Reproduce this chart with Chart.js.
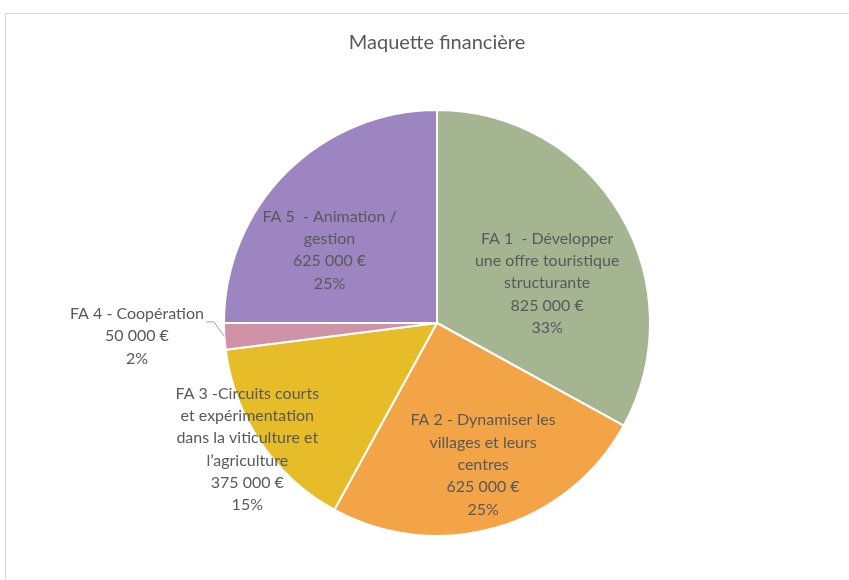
<!DOCTYPE html>
<html>
<head>
<meta charset="utf-8">
<script src="https://cdn.jsdelivr.net/npm/chart.js@4"></script>
<style>
  html, body { margin: 0; padding: 0; background: #fff; }
  canvas { display: block; }
</style>
</head>
<body>
<canvas id="pie" width="849" height="580"></canvas>
<script>
(function () {
    'use strict';

    // data
    var categories = [
        ['FA 1  - Développer', 'une offre touristique', 'structurante'],
        ['FA 2 - Dynamiser les', 'villages et leurs', 'centres'],
        ['FA 3 -Circuits courts', 'et expérimentation', 'dans la viticulture et', 'l\u2019agriculture'],
        ['FA 4 - Coopération'],
        ['FA 5  - Animation /', 'gestion']
    ];
    var amounts = [825000, 625000, 375000, 50000, 625000];
    var colors = ['#A5B592', '#F3A447', '#E7BC29', '#D092A7', '#9C85C0'];

    // where each label sits: fraction along the slice, fraction of radius
    var labelAlong = [0.59, 0.48, 0.51, 0.65, 0.38];
    var labelRadius = [0.55, 0.70, 1.07, 1.41, 0.61];

    var textColor = '#595959';
    var fontFamily = 'Lato, "Open Sans", sans-serif';

    function formatEuro(v) {
        return String(v).replace(/\B(?=(\d{3})+(?!\d))/g, ' ') + ' \u20ac';
    }

    var total = amounts.reduce(function (a, b) { return a + b; }, 0);

    var frame = {
        id: 'frame',
        beforeDraw: function (chart) {
            var ctx = chart.ctx;
            ctx.save();
            ctx.strokeStyle = '#D9D9D9';
            ctx.lineWidth = 1;
            ctx.strokeRect(5.5, 13.5, 900, 600);
            ctx.restore();
        }
    };

    var sliceLabels = {
        id: 'sliceLabels',
        afterDatasetsDraw: function (chart) {
            var ctx = chart.ctx;
            var meta = chart.getDatasetMeta(0);
            ctx.save();
            ctx.font = '16px ' + fontFamily;
            ctx.fillStyle = textColor;
            ctx.textAlign = 'center';
            ctx.textBaseline = 'middle';
            var lh = 22.3;
            meta.data.forEach(function (arc, i) {
                var p = arc.getProps(['x', 'y', 'startAngle', 'endAngle', 'outerRadius'], true);
                var a = p.startAngle + labelAlong[i] * (p.endAngle - p.startAngle);
                var r = p.outerRadius * labelRadius[i];
                var cx = p.x + Math.cos(a) * r;
                var cy = p.y + Math.sin(a) * r;
                var lines = categories[i].slice();
                lines.push(formatEuro(amounts[i]));
                lines.push(Math.round(amounts[i] / total * 100) + '%');
                var top = cy - (lines.length - 1) * lh / 2;
                lines.forEach(function (t, k) {
                    ctx.fillText(t, cx, top + k * lh);
                });
                if (labelRadius[i] > 1.2) {
                    // leader line to the slice edge
                    var mid = (p.startAngle + p.endAngle) / 2;
                    var ex = p.x + Math.cos(mid) * p.outerRadius;
                    var ey = p.y + Math.sin(mid) * p.outerRadius;
                    var sx = cx + ctx.measureText(lines[0]).width / 2 + 2;
                    var sy = top + 8;
                    ctx.strokeStyle = '#A6A6A6';
                    ctx.lineWidth = 1;
                    ctx.beginPath();
                    ctx.moveTo(sx, sy);
                    ctx.lineTo(sx + 8, sy);
                    ctx.lineTo(ex, ey);
                    ctx.stroke();
                }
            });
            ctx.restore();
        }
    };

    new Chart(document.getElementById('pie').getContext('2d'), {
        type: 'pie',
        data: {
            labels: categories.map(function (c) { return c.join(' '); }),
            datasets: [{
                data: amounts,
                backgroundColor: colors,
                borderColor: '#ffffff',
                borderWidth: 2
            }]
        },
        options: {
            responsive: false,
            animation: false,
            layout: { padding: { left: 223, right: 198, top: 31, bottom: 43 } },
            plugins: {
                legend: { display: false },
                tooltip: { enabled: false },
                title: {
                    display: true,
                    text: 'Maquette financière',
                    color: textColor,
                    font: { family: fontFamily, size: 20, weight: 'normal', lineHeight: 1.2 },
                    padding: { top: 0, bottom: 54 }
                }
            }
        },
        plugins: [frame, sliceLabels]
    });
})();
</script>
</body>
</html>
